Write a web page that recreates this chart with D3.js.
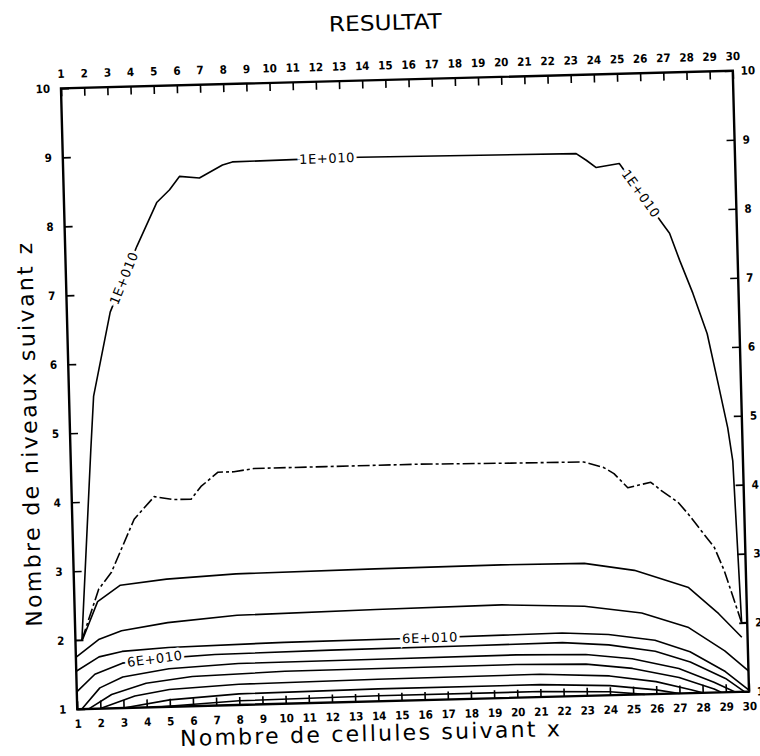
<!DOCTYPE html>
<html>
<head>
<meta charset="utf-8">
<title>RESULTAT</title>
<script src="https://d3js.org/d3.v7.min.js"></script>
<style>
  body { margin: 0; background: #fff; }
  .axis text { font-family: "DejaVu Sans Condensed", "DejaVu Sans", sans-serif; font-weight: bold; font-size: 11.5px; fill: #000; }
  .axis line { stroke: #000; stroke-width: 1.6; }
  .axis path { display: none; }
  .contour { fill: none; stroke: #000; stroke-width: 1.6; stroke-linejoin: round; }
  .clabel { font-family: "DejaVu Sans", sans-serif; font-size: 13px; letter-spacing: 0.6px; fill: #000;
            stroke: #fff; stroke-width: 6px; paint-order: stroke; }
</style>
</head>
<body>
<div id="chart-area"></div>
<script>

// Tick labels
var xTickLabels = [1, 2, 3, 4, 5, 6, 7, 8, 9, 10, 11, 12, 13, 14, 15, 16, 17, 18, 19, 20,
                   21, 22, 23, 24, 25, 26, 27, 28, 29, 30];
var zTickLabels = [1, 2, 3, 4, 5, 6, 7, 8, 9, 10];

// Contour lines, points are [cellule x, niveau z]
var contour1 = [[1, 2.0], [1.28, 2.0], [1.88, 4.76], [2.06, 5.53], [2.87, 6.74], [4.09, 7.68],
                [5.0, 8.31], [5.57, 8.49], [6.01, 8.68], [6.87, 8.65], [7.88, 8.83], [8.31, 8.87],
                [10.9, 8.88], [13.79, 8.89], [23.15, 8.86], [23.58, 8.76], [24.0, 8.65], [25.0, 8.70],
                [26.8, 7.81], [27.09, 7.67], [27.5, 7.27], [28.03, 6.79], [28.6, 6.2], [28.99, 5.52],
                [29.38, 4.83], [29.56, 4.35], [29.76, 2.0], [30, 2.0]];
var contour2 = [[1.28, 2.0], [2.06, 2.73], [2.63, 2.97], [3.08, 3.3], [3.67, 3.73], [4.56, 4.05],
                [5.42, 4.0], [6.15, 4.0], [6.59, 4.18], [7.34, 4.38], [8.03, 4.38], [8.89, 4.42],
                [12, 4.42], [16, 4.42], [20, 4.4], [23.13, 4.39], [23.99, 4.3], [24.42, 4.21],
                [25.0, 4.0], [26.0, 4.07], [26.43, 3.95], [27.15, 3.77], [27.57, 3.6], [28.12, 3.35],
                [28.67, 3.1], [29.07, 2.76], [29.76, 2.0]];
var contour3 = [[1.3, 2.0], [2, 2.55], [3, 2.78], [5, 2.85], [8, 2.9], [14, 2.92], [19.46, 2.93],
                [23.04, 2.92], [25.19, 2.8], [27.51, 2.53], [28.78, 2.14], [29.75, 1.79]];
var contour4 = [[1, 1.75], [2, 2.0], [3, 2.12], [5, 2.22], [8, 2.3], [14, 2.33], [19.43, 2.35],
                [23, 2.3], [25.46, 2.18], [27.47, 1.95], [29, 1.6], [30, 1.3]];
var contour5 = [[1, 1.55], [2, 1.75], [3, 1.82], [5, 1.86], [10, 1.89], [16, 1.9], [22, 1.92],
                [24, 1.88], [26, 1.78], [27.5, 1.6], [29, 1.3], [30, 1.02]];
var contour6 = [[1, 1.25], [1.8, 1.5], [3, 1.65], [4.4, 1.7], [7, 1.74], [12, 1.76], [18, 1.77],
                [22, 1.78], [24, 1.73], [26, 1.62], [27.5, 1.45], [29, 1.2], [29.8, 1.0]];
var contour7 = [[1.2, 1.0], [2, 1.3], [3, 1.45], [5, 1.55], [8, 1.6], [14, 1.61], [20, 1.62],
                [23, 1.6], [25, 1.52], [27, 1.36], [28.5, 1.15], [29.4, 1.0]];
var contour8 = [[1.5, 1.0], [2.5, 1.2], [4, 1.35], [6, 1.43], [10, 1.47], [20, 1.48], [23, 1.46],
                [25, 1.38], [27, 1.23], [28.5, 1.05], [28.8, 1.0]];
var contour9 = [[2, 1.0], [3.5, 1.17], [5, 1.25], [8, 1.3], [14, 1.32], [21, 1.33], [24, 1.28],
                [26, 1.18], [27.5, 1.05], [28, 1.0]];
var contour10 = [[3, 1.0], [5, 1.1], [8, 1.16], [14, 1.18], [21, 1.18], [24, 1.14], [26, 1.06], [27, 1.0]];
var contour11 = [[4.5, 1.0], [8, 1.06], [14, 1.08], [21, 1.08], [24, 1.05], [25.5, 1.0]];

var contourLines = [contour1, contour2, contour3, contour4, contour5, contour6,
                    contour7, contour8, contour9, contour10, contour11];

// Contour labels: text, line index, x position along the line
var labelTexts = ["1E+010", "1E+010", "1E+010", "6E+010", "6E+010"];
var labelLines = [0, 0, 0, 4, 5];
var labelX = [3.5, 12.4, 25.9, 16.3, 4.4];

// Setup the canvas
var margin = {top: 79.5, right: 19, bottom: 55.5, left: 69};
var width = 672;
var height = 621;

var svg = d3.select("#chart-area").append("svg")
	.attr("width", 760)
	.attr("height", 756);

// the scanned sheet is slightly turned
var page = svg.append("g")
	.attr("transform", "rotate(-1.5, 405, 390)");

var g = page.append("g")
	.attr("transform", "translate(" + margin.left + ", " + margin.top + ")");

// Scales
var xScale = d3.scaleLinear()
	.domain([1, 30])
	.range([0, width]);

var zScale = d3.scaleLinear()
	.domain([1, 10])
	.range([height, 0]);

// Title and axis labels
page.append("text")
	.attr("x", 395)
	.attr("y", 29.6)
	.attr("text-anchor", "middle")
	.attr("font-family", "DejaVu Sans, sans-serif")
	.attr("font-size", "21px")
	.attr("textLength", 113)
	.attr("lengthAdjust", "spacingAndGlyphs")
	.text("RESULTAT");

page.append("text")
	.attr("x", 361)
	.attr("y", 740)
	.attr("text-anchor", "middle")
	.attr("font-family", "DejaVu Sans, sans-serif")
	.attr("font-size", "22px")
	.attr("textLength", 380)
	.attr("lengthAdjust", "spacing")
	.text("Nombre de cellules suivant x");

page.append("text")
	.attr("transform", "translate(36, 425) rotate(-90)")
	.attr("text-anchor", "middle")
	.attr("font-family", "DejaVu Sans, sans-serif")
	.attr("font-size", "22px")
	.attr("textLength", 384)
	.attr("lengthAdjust", "spacing")
	.text("Nombre de niveaux suivant z");

// Axes, ticks point into the frame
var fmt = d3.format("d");

g.append("g")
	.attr("class", "axis x-bottom")
	.attr("transform", "translate(0, " + height + ")")
	.call(d3.axisBottom(xScale).tickValues(xTickLabels).tickFormat(fmt)
		.tickSizeInner(-8).tickSizeOuter(0).tickPadding(10.5));

g.append("g")
	.attr("class", "axis x-top")
	.call(d3.axisTop(xScale).tickValues(xTickLabels).tickFormat(fmt)
		.tickSizeInner(-8).tickSizeOuter(0).tickPadding(10.5));

g.append("g")
	.attr("class", "axis z-left")
	.call(d3.axisLeft(zScale).tickValues(zTickLabels).tickFormat(fmt)
		.tickSizeInner(-8).tickSizeOuter(0).tickPadding(11));

g.append("g")
	.attr("class", "axis z-right")
	.attr("transform", "translate(" + width + ", 0)")
	.call(d3.axisRight(zScale).tickValues(zTickLabels).tickFormat(fmt)
		.tickSizeInner(-8).tickSizeOuter(0).tickPadding(8));

// Contours
var line = d3.line()
	.x(function(d) { return xScale(d[0]); })
	.y(function(d) { return zScale(d[1]); });

g.selectAll(".contour")
	.data(contourLines)
	.enter()
	.append("path")
		.attr("class", "contour")
		.attr("stroke-dasharray", function(d, i) { return i === 1 ? "12,3,3,3" : null; })
		.attr("d", line);

// Labels sit on their line, turned along it
labelTexts.forEach(function(txt, i) {
	var pts = contourLines[labelLines[i]];
	var lx = labelX[i];
	var k = 0;
	while (k < pts.length - 2 && pts[k + 1][0] < lx) k++;
	var p0 = pts[k], p1 = pts[k + 1];
	var t = (lx - p0[0]) / (p1[0] - p0[0]);
	var lz = p0[1] + t * (p1[1] - p0[1]);
	var ang = Math.atan2(zScale(p1[1]) - zScale(p0[1]), xScale(p1[0]) - xScale(p0[0])) * 180 / Math.PI;
	g.append("text")
		.attr("class", "clabel")
		.attr("text-anchor", "middle")
		.attr("dy", "0.35em")
		.attr("transform", "translate(" + xScale(lx) + ", " + zScale(lz) + ") rotate(" + ang + ")")
		.text(txt);
});

// Frame
g.append("rect")
	.attr("width", width)
	.attr("height", height)
	.attr("fill", "none")
	.attr("stroke", "#000")
	.attr("stroke-width", 2.4);

</script>
</body>
</html>
